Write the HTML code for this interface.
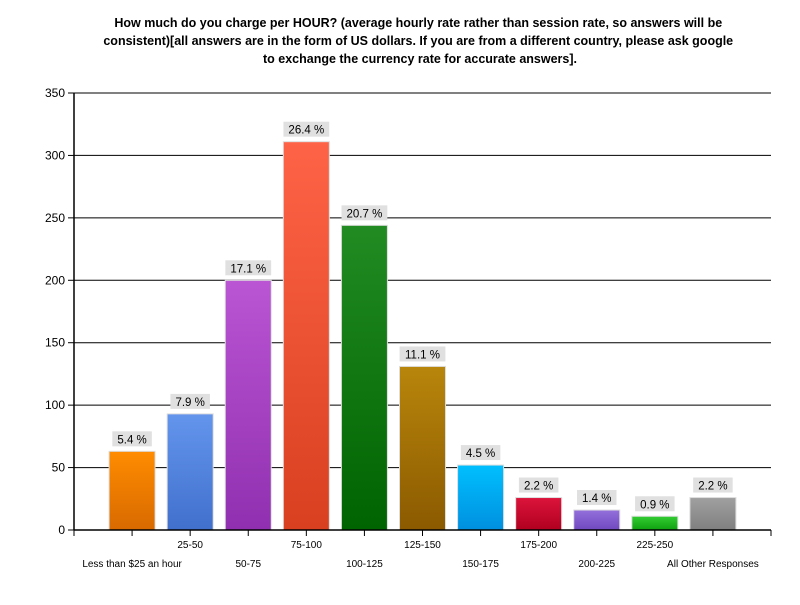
<!DOCTYPE html>
<html><head><meta charset="utf-8"><style>
body{margin:0;background:#fff;font-family:"Liberation Sans",sans-serif}
</style></head><body>
<svg width="800" height="600" xmlns="http://www.w3.org/2000/svg">
<defs id="defs"></defs>
<text font-family="Liberation Sans" font-weight="bold" font-size="12.5" fill="#000" text-anchor="middle">
<tspan x="420" y="27">How much do you charge per HOUR? (average hourly rate rather than session rate, so answers will be</tspan>
<tspan x="420" y="45">consistent)[all answers are in the form of US dollars.  If you are from a different country, please ask google</tspan>
<tspan x="420" y="63">to exchange the currency rate for accurate answers].</tspan>
</text>
<g id="grid"></g><g id="bars"></g><g id="axes"></g>
</svg>
<script>
const categories=["Less than $25 an hour","25-50","50-75","75-100","100-125","125-150","150-175","175-200","200-225","225-250","All Other Responses"];
const counts=[63,93,200,311,244,131,52,26,16,11,26];
const percents=["5.4 %","7.9 %","17.1 %","26.4 %","20.7 %","11.1 %","4.5 %","2.2 %","1.4 %","0.9 %","2.2 %"];
const yTicks=[0,50,100,150,200,250,300,350];
const colors=[["#ff8c00","#d86a00"],["#6495ed","#4070cc"],["#ba55d3","#9030b0"],["#ff6347","#d84020"],["#228b22","#006400"],["#b8860b","#8b5a00"],["#00bfff","#0090e0"],["#dc143c","#b00020"],["#9370db","#7048c0"],["#32cd32","#10a010"],["#a0a0a0","#808080"]];
const NS="http://www.w3.org/2000/svg";
const X0=74,X1=771,Y0=530,Y1=93,YMAX=350;
const step=(X1-X0)/(categories.length+1);
const y=v=>Y0-(v/YMAX)*(Y0-Y1);
const x=i=>X0+step*(i+1);
function mk(t,a,p){const e=document.createElementNS(NS,t);for(const k in a)e.setAttribute(k,a[k]);p.appendChild(e);return e;}
const grid=document.getElementById('grid'),bars=document.getElementById('bars'),axes=document.getElementById('axes'),defs=document.getElementById('defs');
yTicks.forEach(v=>{
 if(v>0){const g=mk('line',{x1:X0,x2:X1,y1:y(v),y2:y(v),stroke:'#000','stroke-width':1},grid);
 
 }
 const tk=mk('line',{x1:X0-6,x2:X0,y1:y(v),y2:y(v),stroke:'#000'},axes);
 
 
 const t=mk('text',{x:X0-9,y:y(v)+4,'text-anchor':'end','font-size':12,fill:'#000'},axes);
 
 
 t.textContent=v;
});
const ya=mk('line',{x1:X0,x2:X0,y1:Y1,y2:Y0,stroke:'#000','stroke-width':1.5},axes);


const xa=mk('line',{x1:X0,x2:X1,y1:Y0,y2:Y0,stroke:'#000','stroke-width':1.5},axes);


for(let k=0;k<=categories.length+1;k++){const tk=mk('line',{x1:X0+step*k,x2:X0+step*k,y1:Y0,y2:Y0+6,stroke:'#000'},axes);
 
 }
const bw=46;
counts.forEach((v,i)=>{
 const gid='g'+i;const lg=mk('linearGradient',{id:gid,x1:0,y1:0,x2:0,y2:1},defs);
 mk('stop',{offset:0,'stop-color':colors[i][0]},lg);mk('stop',{offset:1,'stop-color':colors[i][1]},lg);
 const r=mk('rect',{x:x(i)-bw/2,y:y(v),width:bw,height:Y0-y(v),fill:'url(#'+gid+')',stroke:'#ddd','stroke-width':1},bars);
 
 
 const w=percents[i].length*6.3+8;
 const lb=mk('rect',{x:x(i)-w/2,y:y(v)-20,width:w,height:15,fill:'#e0e0e0'},bars);
 
 
 const t=mk('text',{x:x(i),y:y(v)-8,'text-anchor':'middle','font-size':11.5,fill:'#000'},bars);
 
 
 t.textContent=percents[i];
 const c=mk('text',{x:x(i),y:i%2?548:567,'text-anchor':'middle','font-size':10,fill:'#000'},axes);
 
 
 c.textContent=categories[i];
});
</script>
</body></html>
